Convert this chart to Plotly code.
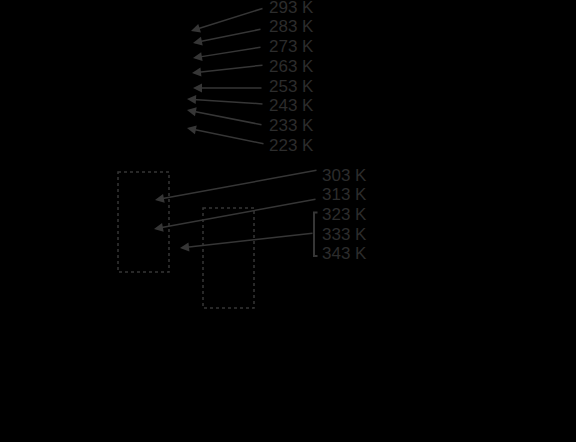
import plotly.graph_objects as go

# labels and where their arrows point (pixel-like coords, y goes down)
top_labels = ["293 K", "283 K", "273 K", "263 K", "253 K", "243 K", "233 K", "223 K"]
top_label_y = [7, 26, 46, 66, 86, 105, 125, 145]
top_tail_x = [264, 262, 262, 264, 263, 264, 263, 265]
top_tail_y = [8, 29, 47, 65, 88, 104, 125, 144]
top_head_x = [191, 193, 193, 192, 193, 187, 187, 187]
top_head_y = [31, 43, 58, 73, 88, 99, 110, 128]

low_labels = ["303 K", "313 K", "323 K", "333 K", "343 K"]
low_label_y = [175, 194, 214, 234, 253]
low_tail = [(318, 170), (317, 199), (314, 233)]
low_head = [(155, 200), (154, 229), (180, 248)]

# dotted boxes: x0, y0, x1, y1
boxes = [(118, 172, 169, 272), (203, 208, 254, 308)]

# bracket round 323-343 K
bracket_x = [317.5, 314, 314, 317.5]
bracket_y = [212.5, 212.5, 256, 256]

txt_col = "#2c2c2c"
line_col = "#363636"

fig = go.Figure()
fig.add_trace(go.Scatter(x=bracket_x, y=bracket_y, mode="lines",
                         line=dict(color=line_col, width=2),
                         hoverinfo="skip", showlegend=False))

ann = []
for lab, y in zip(top_labels, top_label_y):
    ann.append(dict(x=267, y=y, text=lab, showarrow=False, xanchor="left",
                    yanchor="middle", font=dict(size=17, color=txt_col)))
for lab, y in zip(low_labels, low_label_y):
    ann.append(dict(x=320, y=y, text=lab, showarrow=False, xanchor="left",
                    yanchor="middle", font=dict(size=17, color=txt_col)))

for tx, ty, hx, hy in zip(top_tail_x, top_tail_y, top_head_x, top_head_y):
    ann.append(dict(x=hx, y=hy, ax=tx, ay=ty, axref="x", ayref="y",
                    text="", showarrow=True, arrowhead=2, arrowsize=1.2,
                    arrowwidth=1.5, arrowcolor=line_col))
for (tx, ty), (hx, hy) in zip(low_tail, low_head):
    ann.append(dict(x=hx, y=hy, ax=tx, ay=ty, axref="x", ayref="y",
                    text="", showarrow=True, arrowhead=2, arrowsize=1.2,
                    arrowwidth=1.5, arrowcolor=line_col))

for x0, y0, x1, y1 in boxes:
    fig.add_shape(type="rect", x0=x0, y0=y0, x1=x1, y1=y1,
                  line=dict(color=line_col, width=1.5, dash="dot"))

fig.update_layout(
    width=576, height=442,
    margin=dict(l=0, r=0, t=0, b=0),
    paper_bgcolor="black", plot_bgcolor="black",
    font=dict(family="Liberation Sans, Arial, sans-serif"),
    annotations=ann,
    xaxis=dict(range=[0, 576], visible=False, fixedrange=True),
    yaxis=dict(range=[442, 0], visible=False, fixedrange=True),
)

# page body has an 8px margin by default, drop it
fig.write_html("out.html", config={"displayModeBar": False},
               post_script="document.body.style.margin='0';"
                           "document.body.style.background='black';")
